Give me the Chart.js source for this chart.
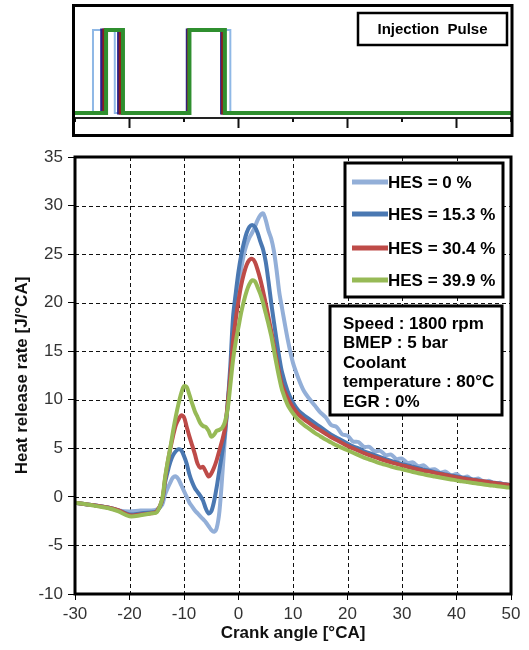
<!DOCTYPE html>
<html>
<head>
<meta charset="utf-8">
<script src="https://cdn.jsdelivr.net/npm/chart.js@4.4.0/dist/chart.umd.min.js"></script>
<style>
    body { margin: 0; background: #fff; }
    #wrap { position: relative; width: 529px; height: 650px; }
    #pulseChart { position: absolute; left: 0; top: 0; }
    #hrrChart { position: absolute; left: 0; top: 140px; }
</style>
</head>
<body>
<div id="wrap">
    <canvas id="pulseChart" width="529" height="140"></canvas>
    <canvas id="hrrChart" width="529" height="510"></canvas>
</div>
<script>
// Crank angle [°CA] for every sampled point of the heat release curves
const crankAngle = [-30,-28,-26,-24,-22,-20,-18,-16,-15,
    -14,-13.5,-13,-12.5,-12,-11.5,-11,-10.5,-10,
    -9.5,-9,-8.5,-8,-7.5,-7,-6.5,-6,-5.5,
    -5,-4.5,-4,-3.5,-3,-2.5,-2,-1.5,-1,
    -0.5,0,0.5,1,1.5,2,2.5,3,3.5,
    4,4.5,5,5.5,6,6.5,7,7.5,8,
    9,10,11,12,13,14,15,16,17,18,19,20,21,22,23,24,25,26,27,28,29,30,
    31,32,33,34,35,36,37,38,39,40,41,42,43,44,45,46,47,48,49,50];

// Heat release rate [J/°CA] per HES case
const hes0 = [-0.6,-0.75,-0.9,-1.1,-1.4,-1.5,-1.4,-1.4,-1.3,
    -0.8,0.2,0.9,1.5,2.0,2.1,1.8,1.2,0.6,
    0.0,-0.6,-1.0,-1.4,-1.7,-2.0,-2.3,-2.6,-3.0,
    -3.4,-3.6,-3.2,-1.5,2.0,6.0,9.5,12.5,16.0,
    19.0,21.5,23.5,25.0,26.0,26.7,27.2,27.8,28.5,
    29.0,29.2,28.5,27.4,26.6,25.3,23.3,21.0,19.4,
    16.3,13.8,12.2,10.9,10.1,9.4,8.7,8.2,7.4,7.2,6.45,6.3,5.7,5.65,5.15,5.15,4.7,4.75,4.3,4.35,3.9,3.95,
    3.5,3.55,3.15,3.25,2.8,2.85,2.5,2.6,2.2,2.35,1.95,2.1,1.75,1.9,1.55,1.65,1.35,1.45,1.15,1.25];

const hes15 = [-0.6,-0.75,-0.9,-1.1,-1.4,-1.8,-1.7,-1.6,-1.5,
    -0.4,1.4,2.6,3.6,4.3,4.7,4.9,4.8,4.2,
    3.4,2.3,1.5,0.9,0.5,0.1,-0.4,-1.2,-1.7,
    -1.5,-0.5,1.0,2.8,4.5,6.5,9.5,13.5,18.5,
    21.0,23.2,24.9,26.2,27.2,27.8,28.0,27.8,27.2,
    26.3,25.5,24.2,22.2,20.0,18.0,16.1,14.3,12.8,
    10.9,9.7,8.9,8.4,8.0,7.6,7.2,6.8,6.4,6.1,5.8,5.5,5.2,5.0,4.7,4.5,4.3,4.1,3.9,3.7,3.55,3.4,
    3.25,3.1,2.95,2.8,2.7,2.55,2.45,2.3,2.2,2.1,2.0,1.9,1.8,1.7,1.6,1.5,1.45,1.35,1.3,1.2];

const hes30 = [-0.6,-0.75,-0.9,-1.1,-1.4,-1.9,-1.8,-1.7,-1.5,
    -0.3,1.7,3.5,5.0,6.3,7.4,8.0,8.4,8.2,
    7.2,6.2,5.3,4.4,3.4,3.0,3.1,2.6,2.1,
    2.4,3.0,3.8,4.8,5.8,7.0,9.5,12.5,16.0,
    18.3,20.2,21.8,23.0,23.9,24.4,24.5,24.2,23.4,
    22.4,21.2,19.9,18.5,17.1,15.6,14.1,12.7,11.5,
    10.2,9.2,8.5,8.0,7.6,7.2,6.85,6.5,6.15,5.85,5.55,5.25,5.0,4.75,4.5,4.3,4.1,3.9,3.72,3.55,3.4,3.25,
    3.1,2.95,2.82,2.7,2.6,2.47,2.36,2.25,2.13,2.03,1.93,1.83,1.75,1.67,1.6,1.5,1.43,1.35,1.28,1.2];

const hes40 = [-0.6,-0.75,-0.95,-1.15,-1.5,-2.0,-1.9,-1.7,-1.6,
    -0.2,1.9,3.6,5.1,6.8,8.3,9.6,10.7,11.4,
    11.3,10.5,9.6,8.8,8.2,7.6,7.3,7.2,6.8,
    6.2,6.4,6.8,6.9,7.1,7.7,9.0,11.5,14.1,
    16.0,17.5,19.0,20.2,21.2,21.9,22.3,22.2,21.6,
    20.9,20.0,18.9,17.8,16.6,15.1,13.6,12.2,11.0,
    9.5,8.6,7.9,7.4,7.0,6.6,6.25,5.9,5.6,5.3,5.05,4.8,4.55,4.3,4.05,3.85,3.65,3.45,3.3,3.12,2.97,2.85,
    2.7,2.56,2.44,2.32,2.2,2.1,2.0,1.9,1.8,1.7,1.6,1.52,1.44,1.36,1.28,1.2,1.14,1.07,1.0,0.95];

const seriesLabels = ['HES = 0 %', 'HES = 15.3 %', 'HES = 30.4 %', 'HES = 39.9 %'];
const seriesColors = ['#93afd8', '#4a78b2', '#be4b48', '#97ba56'];

// Injection pulses: [start, end] of pilot and main injection [°CA]
const pilotPulse = [[-26.7, -22.7], [-25.1, -22.0], [-24.7, -21.7], [-24.3, -21.2]];
const mainPulse = [[-9.2, -1.5], [-9.4, -3.1], [-9.2, -2.9], [-9.0, -2.5]];
const pulseColors = ['#8fb8e6', '#25208a', '#8e1d1d', '#2f8f2f'];
const pulseWidths = [2, 3, 3, 4];

const infoLines = ['Speed : 1800 rpm', 'BMEP : 5 bar', 'Coolant', 'temperature : 80°C', 'EGR : 0%'];

const FONT = '"Liberation Sans", Arial, sans-serif';

// Top chart: injection pulse
const buildPulse = (pilot, main) => {
    return [
        {x: -30, y: 0}, {x: pilot[0], y: 0}, {x: pilot[0], y: 1}, {x: pilot[1], y: 1}, {x: pilot[1], y: 0},
        {x: main[0], y: 0}, {x: main[0], y: 1}, {x: main[1], y: 1}, {x: main[1], y: 0}, {x: 50, y: 0}
    ];
}

const pulseDecor = {
    id: 'pulseDecor',
    afterDraw(chart) {
        const ctx = chart.ctx;
        const area = chart.chartArea;
        const xs = chart.scales.x;
        ctx.save();
        // tick marks under the axis line
        ctx.strokeStyle = '#111';
        ctx.lineWidth = 2;
        xs.ticks.forEach(t => {
            const px = xs.getPixelForValue(t.value);
            const len = (t.value % 20 === 0) ? 10 : 4;
            ctx.beginPath();
            ctx.moveTo(px, area.bottom);
            ctx.lineTo(px, area.bottom + len);
            ctx.stroke();
        });
        // outer frame
        ctx.lineWidth = 3;
        ctx.strokeStyle = '#000';
        ctx.strokeRect(area.left - 1.5, 5.5, area.right - area.left + 2.5, 130);
        // label box
        ctx.fillStyle = '#fff';
        ctx.fillRect(area.right - 153, 13, 149, 32);
        ctx.lineWidth = 2.5;
        ctx.strokeRect(area.right - 153, 13, 149, 32);
        ctx.fillStyle = '#000';
        ctx.font = 'bold 15px ' + FONT;
        ctx.textAlign = 'center';
        ctx.textBaseline = 'middle';
        ctx.fillText('Injection  Pulse', area.right - 78.5, 29.5);
        ctx.restore();
    }
}

const pulseDatasets = [];
for (let i = 0; i < pilotPulse.length; i++) {
    pulseDatasets.push({
        label: seriesLabels[i],
        data: buildPulse(pilotPulse[i], mainPulse[i]),
        borderColor: pulseColors[i],
        borderWidth: pulseWidths[i],
        pointRadius: 0,
        tension: 0,
        order: pilotPulse.length - i
    });
}

new Chart(document.getElementById('pulseChart').getContext('2d'), {
    type: 'line',
    data: { datasets: pulseDatasets },
    options: {
        responsive: false,
        animation: false,
        layout: { padding: { left: 75, right: 18, top: 6, bottom: 0 } },
        plugins: { legend: { display: false }, tooltip: { enabled: false } },
        scales: {
            x: {
                type: 'linear', min: -30, max: 50,
                ticks: { stepSize: 10, display: false },
                grid: { drawOnChartArea: false, drawTicks: false },
                border: { display: true, color: '#222', width: 2 },
                afterFit: (scale) => { scale.height = 22; }
            },
            y: { display: false, min: -0.06, max: 1.29 }
        }
    },
    plugins: [pulseDecor]
});

// Main chart: dashed grid, frame, legend and info box
const hrrDecor = {
    id: 'hrrDecor',
    beforeDatasetsDraw(chart) {
        const ctx = chart.ctx;
        const area = chart.chartArea;
        const xs = chart.scales.x, ys = chart.scales.y;
        ctx.save();
        ctx.strokeStyle = '#111';
        ctx.lineWidth = 1;
        ctx.setLineDash([4, 3]);
        xs.ticks.forEach(t => {
            const px = Math.round(xs.getPixelForValue(t.value)) + 0.5;
            ctx.beginPath();
            ctx.moveTo(px, area.top);
            ctx.lineTo(px, area.bottom);
            ctx.stroke();
        });
        ys.ticks.forEach(t => {
            const py = Math.round(ys.getPixelForValue(t.value)) + 0.5;
            ctx.beginPath();
            ctx.moveTo(area.left, py);
            ctx.lineTo(area.right, py);
            ctx.stroke();
        });
        ctx.restore();
    },
    afterDraw(chart) {
        const ctx = chart.ctx;
        const area = chart.chartArea;
        ctx.save();
        // plot frame
        ctx.strokeStyle = '#000';
        ctx.lineWidth = 3;
        ctx.strokeRect(area.left, area.top, area.right - area.left, area.bottom - area.top);

        // legend box
        const lx = area.right - 166, ly = area.top + 6;
        ctx.fillStyle = '#fff';
        ctx.fillRect(lx, ly, 158, 134);
        ctx.strokeRect(lx, ly, 158, 134);
        const rows = [19, 51, 85, 117];
        ctx.font = 'bold 17px ' + FONT;
        ctx.textAlign = 'left';
        ctx.textBaseline = 'middle';
        chart.data.datasets.forEach((ds, i) => {
            ctx.strokeStyle = ds.borderColor;
            ctx.lineWidth = 5;
            ctx.beginPath();
            ctx.moveTo(lx + 7, ly + rows[i]);
            ctx.lineTo(lx + 43, ly + rows[i]);
            ctx.stroke();
            ctx.fillStyle = '#000';
            ctx.fillText(ds.label, lx + 43, ly + rows[i] + 1);
        });

        // operating conditions box
        const bx = area.right - 181, by = area.top + 149;
        ctx.fillStyle = '#fff';
        ctx.fillRect(bx, by, 172, 109);
        ctx.strokeStyle = '#000';
        ctx.lineWidth = 3;
        ctx.strokeRect(bx, by, 172, 109);
        ctx.fillStyle = '#000';
        for (let i = 0; i < infoLines.length; i++) {
            ctx.fillText(infoLines[i], bx + 13, by + 18 + i * 19.5);
        }
        ctx.restore();
    }
}

const hrrSeries = [hes0, hes15, hes30, hes40];
const hrrDatasets = [];
for (let i = 0; i < hrrSeries.length; i++) {
    hrrDatasets.push({
        label: seriesLabels[i],
        data: crankAngle.map((ca, k) => ({x: ca, y: hrrSeries[i][k]})),
        borderColor: seriesColors[i],
        borderWidth: 4,
        pointRadius: 0,
        tension: 0.3,
        order: hrrSeries.length - i
    });
}

new Chart(document.getElementById('hrrChart').getContext('2d'), {
    type: 'line',
    data: { datasets: hrrDatasets },
    options: {
        responsive: false,
        animation: false,
        layout: { padding: { left: 8, right: 18, top: 17, bottom: 2 } },
        plugins: { legend: { display: false }, tooltip: { enabled: false } },
        scales: {
            x: {
                type: 'linear', min: -30, max: 50,
                ticks: { stepSize: 10, color: '#333', padding: 4, font: { family: FONT, size: 17 } },
                grid: { drawOnChartArea: false, tickLength: 6, tickColor: '#000' },
                border: { display: false },
                title: { display: true, text: 'Crank angle [°CA]', color: '#111', font: { family: FONT, size: 17, weight: 'bold' } },
                afterFit: (scale) => { scale.height = 54; }
            },
            y: {
                min: -10, max: 35,
                ticks: { stepSize: 5, color: '#333', padding: 5, font: { family: FONT, size: 17 } },
                grid: { drawOnChartArea: false, tickLength: 7, tickColor: '#000' },
                border: { display: false },
                title: { display: true, text: 'Heat release rate [J/°CA]', color: '#111', font: { family: FONT, size: 17, weight: 'bold' } },
                afterFit: (scale) => { scale.width = 67; }
            }
        }
    },
    plugins: [hrrDecor]
});
</script>
</body>
</html>
